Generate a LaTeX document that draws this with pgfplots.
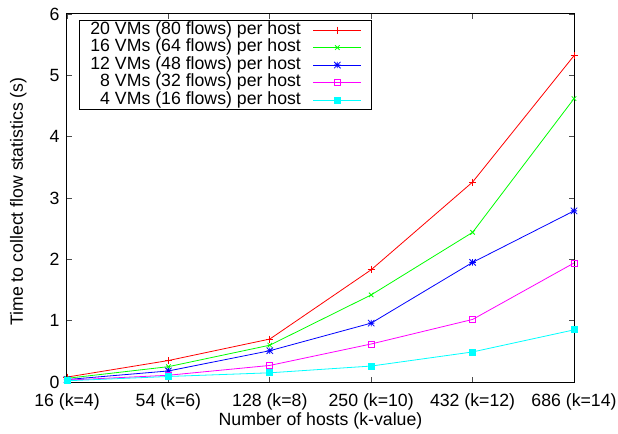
\documentclass[border=0pt]{standalone}
\usepackage{pgfplots}
\pgfplotsset{compat=1.18}
\usepackage{fontspec}
\setmainfont{Liberation Sans}
\pgfdeclareplotmark{gstar}{%
 \pgfpathmoveto{\pgfqpoint{-\pgfplotmarksize}{0pt}}\pgfpathlineto{\pgfqpoint{\pgfplotmarksize}{0pt}}%
 \pgfpathmoveto{\pgfqpoint{0pt}{-\pgfplotmarksize}}\pgfpathlineto{\pgfqpoint{0pt}{\pgfplotmarksize}}%
 \pgfpathmoveto{\pgfqpoint{-\pgfplotmarksize}{-\pgfplotmarksize}}\pgfpathlineto{\pgfqpoint{\pgfplotmarksize}{\pgfplotmarksize}}%
 \pgfpathmoveto{\pgfqpoint{-\pgfplotmarksize}{\pgfplotmarksize}}\pgfpathlineto{\pgfqpoint{\pgfplotmarksize}{-\pgfplotmarksize}}%
 \pgfusepathqstroke}
\newcommand{\ff}{\fontsize{17.7bp}{20bp}\selectfont}
\definecolor{gred}{RGB}{255,0,0}
\definecolor{ggreen}{RGB}{0,255,0}
\definecolor{gblue}{RGB}{0,0,255}
\definecolor{gmag}{RGB}{255,0,255}
\definecolor{gcyan}{RGB}{0,255,255}
\begin{document}
\begin{tikzpicture}
\begin{axis}[
 at={(0,0)}, anchor=south west,
 scale only axis, width=507bp, height=368bp,
 xmin=0, xmax=5, ymin=0, ymax=6,
 xtick={0,1,2,3,4,5},
 xticklabels={16 (k=4),54 (k=6),128 (k=8),250 (k=10),432 (k=12),686 (k=14)},
 ytick={0,1,2,3,4,5,6},
 tick align=inside, major tick length=5bp,
 tick style={line width=0.8bp, color=black!70},
 axis line style={line width=1bp},
 /pgf/number format/assume math mode=true,
 tick label style={font=\ff},
 label style={font=\ff},
 xticklabel style={anchor=base, yshift=-24bp},
 yticklabel style={xshift=-4bp},
 xlabel={Number of hosts (k-value)},
 ylabel={Time to collect flow statistics (s)},
 xlabel style={at={(axis description cs:0.5,0)}, anchor=base, yshift=-43bp},
 ylabel style={at={([xshift=-44bp,yshift=-3.5bp]axis description cs:0,0.5)}, anchor=base},
 legend cell align=right,
 legend plot pos=right,
 legend style={at={(rel axis cs:0,1)}, anchor=north west, xshift=12bp, yshift=-6bp,
   draw=black, line width=0.8bp, font=\ff, inner xsep=10bp, inner ysep=1.5bp,
   nodes={inner xsep=1bp, inner ysep=0pt, text height=12.5bp, text depth=3.8bp},
   /tikz/row sep=1.2bp,
   /tikz/every odd column/.append style={column sep=11bp}},
 legend image code/.code={\draw[mark repeat=2,mark phase=2,#1] plot coordinates {(0bp,0bp) (24bp,0bp) (48bp,0bp)};},
 every axis plot/.append style={line width=0.8bp},
]
\addplot[gred, mark=+, mark size=3.5bp] coordinates {(0,0.08) (1,0.35) (2,0.70) (3,1.83) (4,3.26) (5,5.32)};
\addlegendentry{20 VMs (80 flows) per host}
\addplot[ggreen, mark=x, mark size=3.2bp] coordinates {(0,0.06) (1,0.25) (2,0.60) (3,1.42) (4,2.44) (5,4.62)};
\addlegendentry{16 VMs (64 flows) per host}
\addplot[gblue, mark=gstar, mark size=3.2bp] coordinates {(0,0.04) (1,0.18) (2,0.51) (3,0.96) (4,1.95) (5,2.79)};
\addlegendentry{12 VMs (48 flows) per host}
\addplot[gmag, mark=square, mark size=3bp] coordinates {(0,0.03) (1,0.11) (2,0.27) (3,0.62) (4,1.02) (5,1.94)};
\addlegendentry{8 VMs (32 flows) per host}
\addplot[gcyan, mark=square*, mark size=3bp] coordinates {(0,0.02) (1,0.09) (2,0.15) (3,0.26) (4,0.49) (5,0.85)};
\addlegendentry{4 VMs (16 flows) per host}
\end{axis}
\pgfresetboundingbox
\path[use as bounding box] (-67bp,-52bp) rectangle (551bp,382bp);
\end{tikzpicture}
\end{document}
